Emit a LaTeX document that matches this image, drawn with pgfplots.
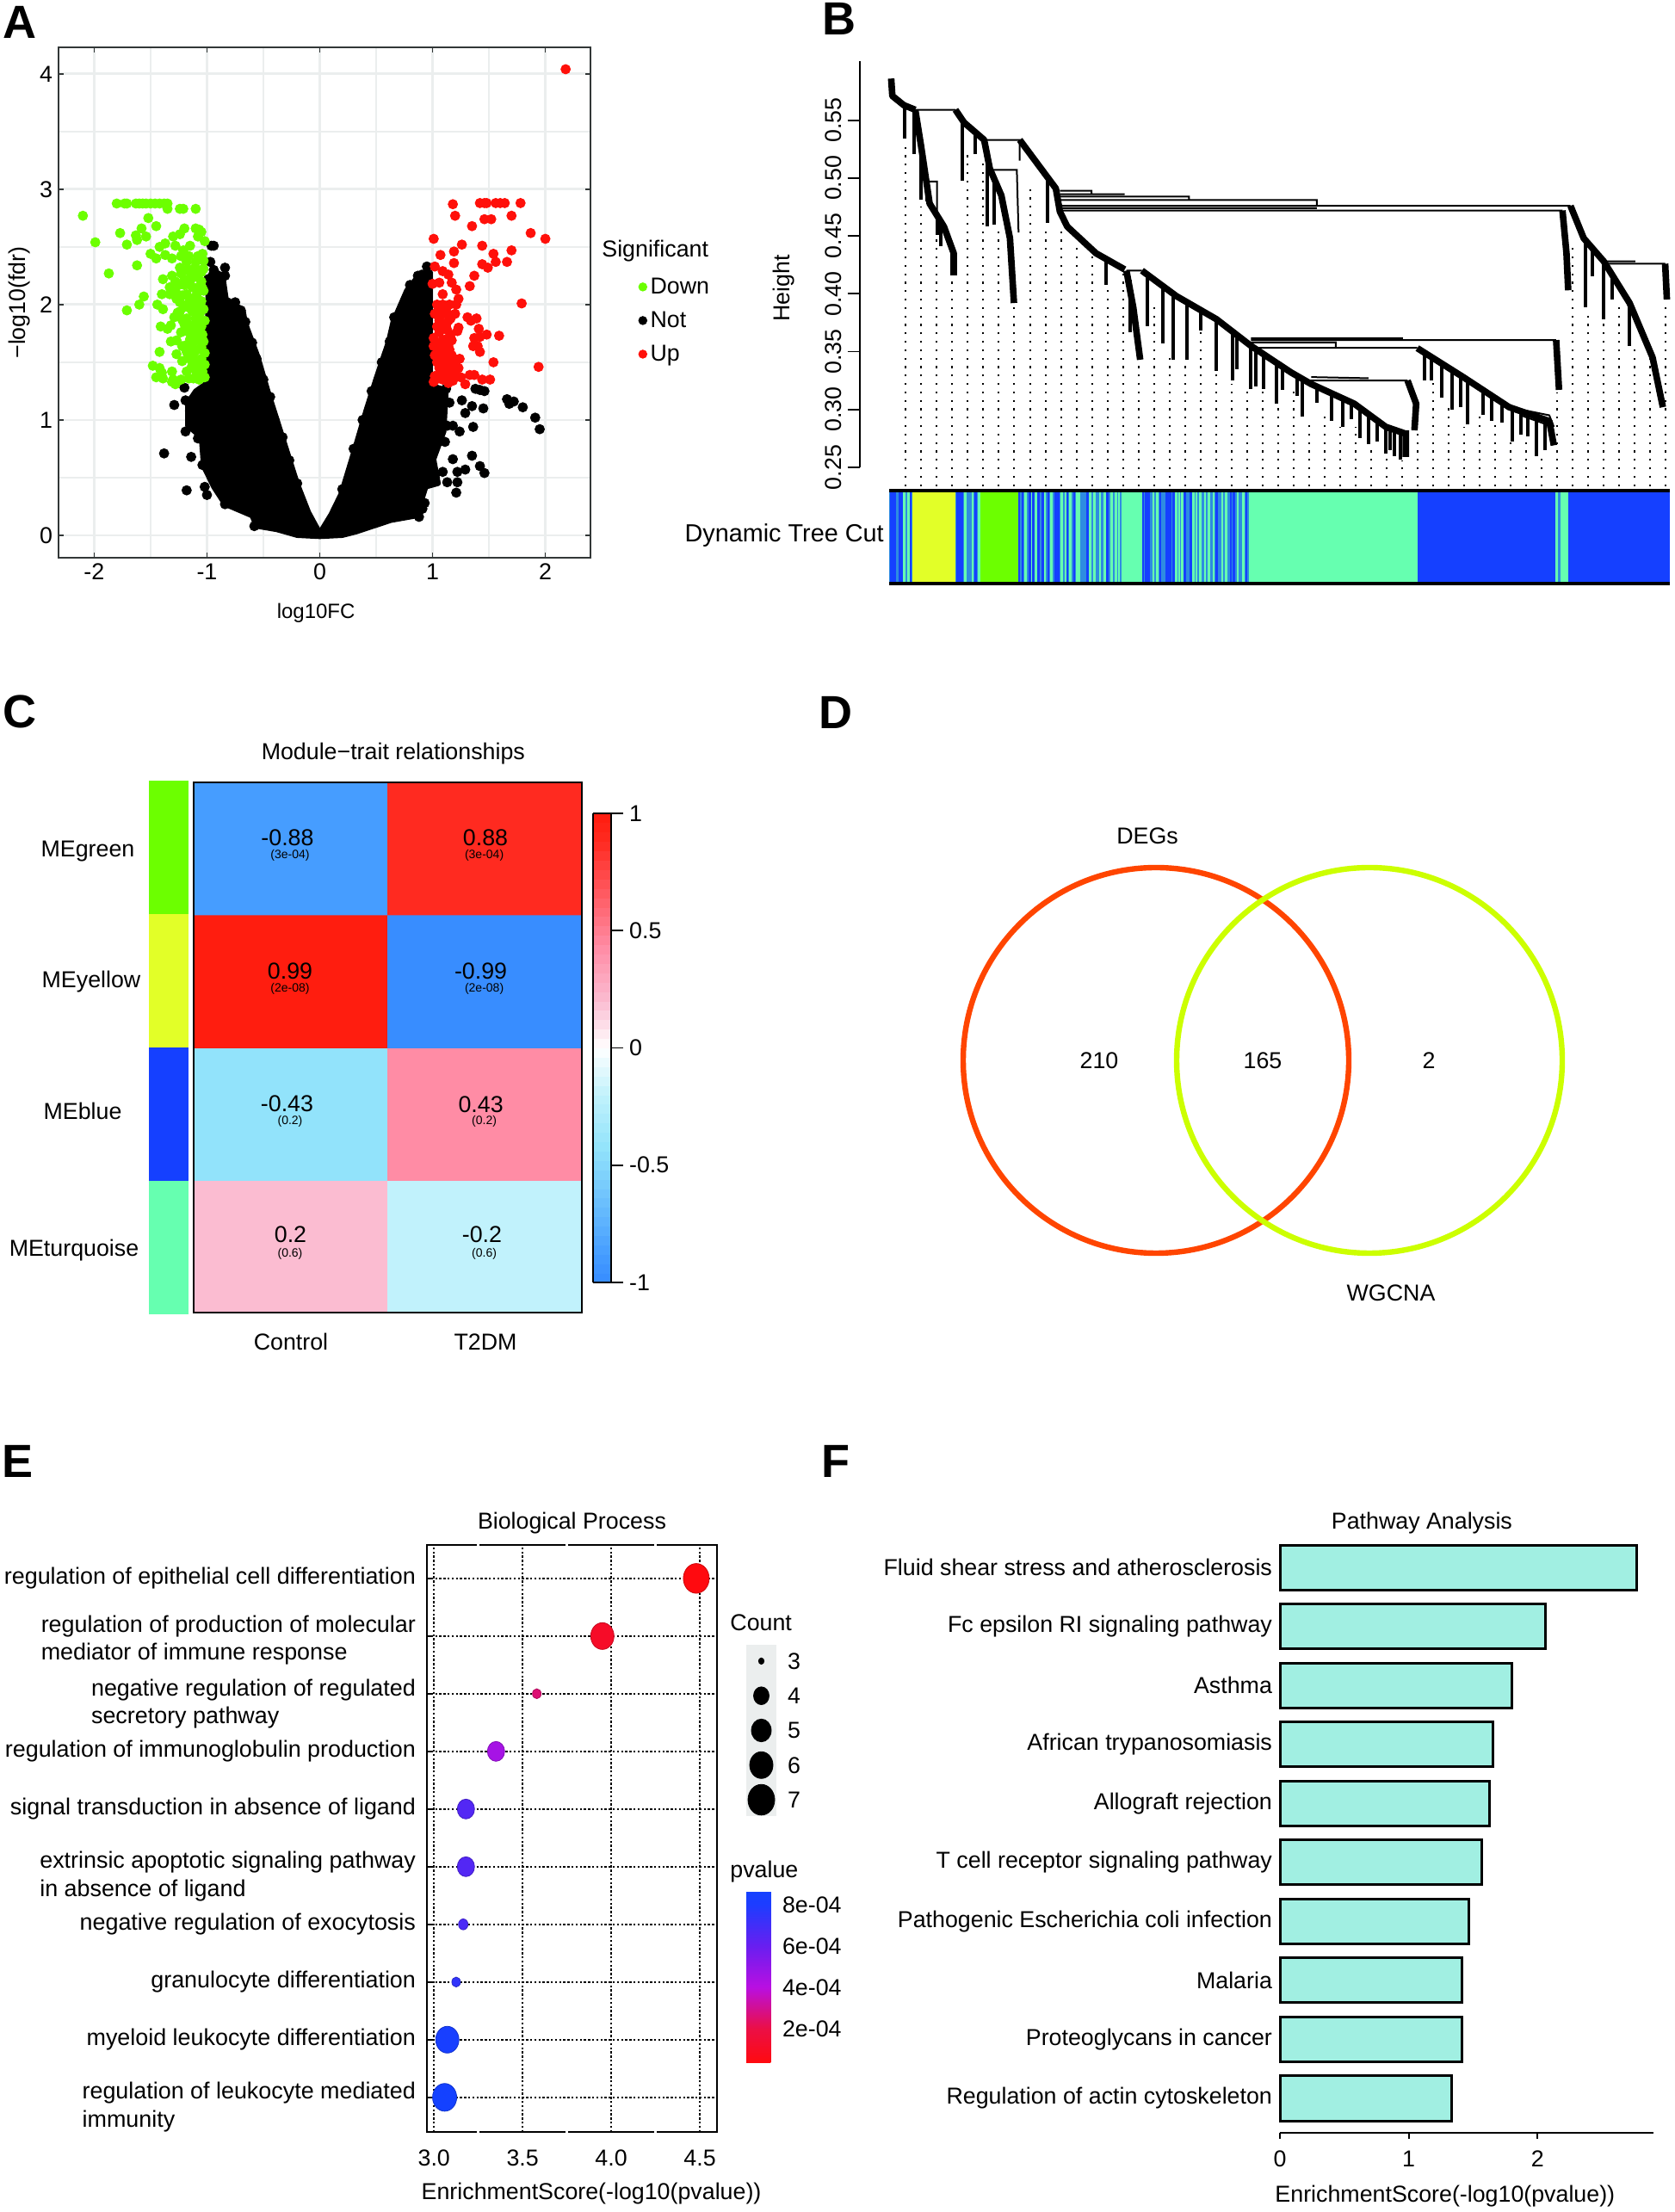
\documentclass[border=0pt]{standalone}
\usepackage{fontspec}
\setmainfont{Liberation Sans}
\usepackage{pgfplots}
\pgfplotsset{compat=1.18}
\newcommand\X[1]{#1*0.5pt}
\newcommand\Y[1]{(2570-#1)*0.5pt}
\newcommand\fs{\fontsize{13.4}{16}\selectfont}
\definecolor{mGreen}{RGB}{108,255,0}
\definecolor{mYellow}{RGB}{226,255,40}
\definecolor{mBlue}{RGB}{21,64,255}
\definecolor{mMid}{RGB}{46,140,225}
\definecolor{mTurq}{RGB}{102,255,176}
\definecolor{upRed}{RGB}{255,16,10}
\definecolor{barTeal}{RGB}{161,239,226}
\definecolor{gridA}{RGB}{235,238,238}
\definecolor{borderA}{RGB}{50,55,55}
\pgfplotsset{
  every axis title shift=0pt,
  base/.style={scale only axis, anchor=south west, tick label style={font=\fs}, label style={font=\fs}, title style={font=\fs}},
  bare/.style={scale only axis, anchor=south west, hide axis, clip=false},
}
\newcommand\block[5]{\addplot[fill=#5,draw=none,forget plot] coordinates {(#1,#3)(#2,#3)(#2,#4)(#1,#4)} --cycle;}
\newcommand\T[4]{\node[inner sep=0pt,font=\fs,#3] at ({\X{#1}},{\Y{#2}}) {#4};}
\newcommand\Letter[3]{\node[inner sep=0pt,font=\fontsize{27}{27}\selectfont\bfseries] at ({\X{#1}},{\Y{#2}}) {#3};}
\newcommand\TL[3]{\vbox{\vskip#1\hbox{\begin{tabular}{@{}l@{}}#2\\#3\end{tabular}}}}
\begin{document}
\begin{tikzpicture}
\path[use as bounding box] (0,0) rectangle (972.5pt,1285pt);
% Panel letters
\Letter{23}{26}{A}\Letter{975}{22}{B}\Letter{23}{827}{C}\Letter{971}{828}{D}\Letter{21}{1698}{E}\Letter{971}{1698}{F}

% ------------------------- A: volcano
\begin{axis}[base, at={({\X{68}},{\Y{648}})}, width=309pt, height=296.5pt,
  xmin=-2.316, xmax=2.40, ymin=-0.194, ymax=4.23,
  xtick={-2,-1,0,1,2}, xticklabels={-2,-1,0,1,2},
  ytick={0,1,2,3,4}, yticklabels={0,1,2,3,4},
  minor xtick={-1.5,-0.5,0.5,1.5}, minor ytick={0.5,1.5,2.5,3.5},
  grid=both, major grid style={gridA,line width=1.4pt}, minor grid style={gridA,line width=0.8pt},
  axis line style={borderA,line width=0.8pt},
  major tick style={borderA,line width=0.9pt}, major tick length=3pt, minor tick length=0pt,
  xlabel={log10FC}, ylabel={−log10(fdr)},
  xlabel style={at={(axis description cs:0.484,-0.108)},anchor=center,font=\fontsize{12}{14}\selectfont},
  ylabel style={at={(axis description cs:-0.074,0.5)},anchor=center},
  legend style={at={(axis description cs:1.09,0.556)},anchor=north west,draw=none,fill=none,font=\fs,row sep=4.8pt,inner sep=0pt},
  legend cell align=left, clip=false]
\addlegendimage{only marks,mark=*,mGreen,mark size=2.4pt}\addlegendentry{Down}
\addlegendimage{only marks,mark=*,black,mark size=2.4pt}\addlegendentry{Not}
\addlegendimage{only marks,mark=*,upRed,mark size=2.4pt}\addlegendentry{Up}
% black V: outline of the dense mass
\addplot[fill=black,draw=black,line width=3pt,line join=round,no markers,forget plot] coordinates {
(0,0.02)(-0.1,0.2)(-0.2,0.45)(-0.33,0.85)(-0.46,1.25)(-0.55,1.55)(-0.66,1.84)(-0.68,1.95)(-0.75,2.0)(-0.82,1.98)(-0.86,2.25)(-0.95,2.3)
(-0.99,2.2)(-1.0,1.32)(-1.1,1.25)(-1.17,1.15)(-1.17,0.95)(-1.05,0.85)(-1.03,0.6)(-0.94,0.42)(-0.84,0.27)(-0.6,0.17)(-0.56,0.08)(-0.38,0.05)(-0.2,0.0)(0,-0.01)
(0.2,0.0)(0.32,0.03)(0.63,0.13)(0.86,0.17)(0.94,0.42)(1.05,0.45)(1.01,0.66)(1.1,0.9)(1.12,1.26)(0.98,1.3)(0.98,2.28)(0.9,2.28)(0.77,2.12)(0.65,1.85)(0.61,1.68)(0.5,1.36)(0.41,1.08)(0.32,0.78)(0.19,0.36)(0.1,0.18)} --cycle;
% black points
\addplot[only marks,mark=*,black,mark size=2.75pt,forget plot] coordinates {
(-0.96,2.51)(-0.94,2.51)(-0.97,2.37)(-0.94,2.30)(-0.84,2.32)(-0.84,2.25)(-0.99,2.22)(-0.82,2.02)(-0.75,2.02)(-0.9,2.1)(-0.7,1.95)(-0.66,1.85)(-0.6,1.67)(-0.56,1.53)(-0.5,1.35)(-0.44,1.2)(-0.4,1.0)(-0.33,0.85)(-0.27,0.65)(-0.2,0.45)
(-1.20,1.28)(-1.29,1.13)(-1.19,1.17)(-1.38,0.71)(-1.14,0.68)(-1.18,0.39)(-1.19,0.90)(-1.0,0.35)(-1.02,0.42)(-1.04,0.61)(-1.08,0.84)(-1.11,1.02)(-1.15,1.08)(-1.0,1.17)(-0.58,0.08)(-0.84,0.27)(-1.1,1.2)(-1.05,1.25)
(1.68,1.14)(1.66,1.18)(1.72,1.16)(1.80,1.11)(1.91,1.02)(1.95,0.92)(1.45,1.10)(1.36,0.94)(1.35,1.12)(1.26,1.17)(1.24,0.90)(1.18,0.95)(1.29,1.06)(1.15,1.15)(1.35,0.69)(1.18,0.66)(1.29,0.57)(1.22,0.55)(1.42,0.60)(1.46,0.54)(1.13,0.46)(1.22,0.46)(1.21,0.37)(1.02,0.52)(1.09,0.55)(1.13,0.95)(1.11,0.81)(0.88,0.16)(0.91,0.23)(0.93,0.28)
(1.38,1.27)(1.42,1.26)(1.46,1.25)(1.12,1.27)(0.66,1.89)(0.80,2.17)(0.87,2.25)(0.95,2.33)(0.91,2.11)(0.84,1.95)(0.75,1.8)(0.62,1.68)(0.55,1.5)(0.46,1.25)(0.38,1.0)(0.3,0.75)(0.2,0.4)(1.05,1.05)(1.0,0.8)};
% green points
\addplot[only marks,mark=*,mGreen,mark size=2.75pt,forget plot] coordinates {
(-1.80,2.876)(-1.73,2.876)(-1.71,2.876)(-1.63,2.876)(-1.60,2.876)(-1.57,2.876)(-1.54,2.876)(-1.50,2.876)(-1.46,2.876)(-1.42,2.876)(-1.38,2.876)(-1.35,2.876)
(-1.35,2.83)(-1.24,2.83)(-1.21,2.83)(-1.10,2.83)(-2.10,2.77)(-1.52,2.75)(-1.45,2.68)(-1.58,2.66)(-1.20,2.66)(-1.10,2.66)(-1.07,2.65)(-1.05,2.63)(-1.77,2.62)(-1.63,2.60)(-1.54,2.59)(-1.62,2.56)(-1.24,2.61)(-1.30,2.59)(-1.08,2.59)(-1.02,2.55)(-1.99,2.54)(-1.71,2.52)(-1.37,2.53)(-1.42,2.50)(-1.28,2.51)(-1.15,2.51)
(-1.50,2.44)(-1.45,2.40)(-1.37,2.43)(-1.31,2.40)(-1.21,2.47)(-1.23,2.42)(-1.16,2.42)(-1.08,2.42)(-1.04,2.44)(-1.18,2.37)(-1.10,2.37)(-1.03,2.38)
(-1.62,2.34)(-1.87,2.27)(-1.24,2.32)(-1.31,2.25)(-1.23,2.27)(-1.14,2.25)(-1.05,2.28)(-1.39,2.22)(-1.28,2.20)(-1.33,2.15)(-1.20,2.17)(-1.13,2.15)(-1.05,2.20)(-1.28,2.12)(-1.40,2.09)(-1.33,2.09)(-1.18,2.09)(-1.09,2.09)(-1.03,2.12)
(-1.56,2.07)(-1.60,2.00)(-1.71,1.95)(-1.44,2.00)(-1.39,1.96)(-1.24,2.02)(-1.16,2.02)(-1.05,2.03)(-1.24,1.94)(-1.13,1.94)(-1.03,1.96)(-1.29,1.89)(-1.18,1.88)(-1.08,1.88)(-1.02,1.86)(-1.20,1.83)(-1.13,1.82)(-1.05,1.81)(-1.41,1.81)(-1.35,1.79)(-1.32,1.82)(-1.18,1.77)(-1.10,1.76)(-1.04,1.74)
(-1.32,1.68)(-1.27,1.69)(-1.22,1.64)(-1.10,1.69)(-1.03,1.68)(-1.42,1.59)(-1.27,1.57)(-1.18,1.59)(-1.08,1.61)(-1.02,1.58)(-1.22,1.51)(-1.14,1.52)(-1.05,1.53)(-1.48,1.47)(-1.42,1.45)(-1.02,1.48)(-1.31,1.42)(-1.18,1.42)(-1.09,1.43)(-1.40,1.41)(-1.45,1.37)(-1.39,1.36)(-1.30,1.35)(-1.28,1.31)(-1.23,1.35)(-1.16,1.36)(-1.07,1.35)(-1.02,1.37)(-1.31,1.33)
(-1.22,2.3)(-1.17,2.3)(-1.12,2.31)(-1.08,2.3)(-1.03,2.31)(-1.2,2.22)(-1.15,2.2)(-1.09,2.24)(-1.25,2.17)(-1.08,2.15)(-1.04,2.14)(-1.27,2.05)(-1.22,2.08)(-1.12,2.05)(-1.07,2.0)(-1.2,1.98)(-1.15,1.97)(-1.1,1.98)(-1.26,1.93)(-1.06,1.93)(-1.22,1.87)(-1.1,1.88)(-1.17,1.83)(-1.07,1.84)(-1.23,1.76)(-1.14,1.76)(-1.07,1.77)(-1.15,1.7)(-1.06,1.71)(-1.18,1.65)(-1.13,1.63)(-1.05,1.63)(-1.12,1.57)(-1.17,1.54)(-1.1,1.5)(-1.07,1.46)(-1.14,1.45)(-1.09,1.4)(-1.12,1.36)(-1.04,1.42)};
% red points
\addplot[only marks,mark=*,upRed,mark size=2.75pt,forget plot] coordinates {
(1.18,2.87)(1.42,2.88)(1.46,2.88)(1.48,2.88)(1.56,2.88)(1.60,2.88)(1.64,2.88)(1.78,2.88)(1.20,2.77)(1.46,2.74)(1.52,2.74)(1.70,2.77)(1.35,2.68)(1.87,2.62)(1.01,2.57)(2.00,2.57)(1.26,2.52)(1.44,2.51)(1.19,2.46)(1.07,2.43)(1.54,2.44)(1.70,2.47)(1.19,2.36)(1.44,2.35)(1.56,2.37)(1.49,2.32)(1.66,2.37)(1.02,2.33)(1.09,2.29)(1.14,2.26)(1.37,2.25)(1.06,2.19)(1.17,2.19)(1.00,2.18)(1.21,2.13)(1.33,2.16)(1.09,2.09)(1.23,2.05)(1.04,2.00)(1.09,2.00)(1.15,2.00)(1.21,2.00)(1.79,2.01)
(1.20,1.92)(1.02,1.92)(1.09,1.92)(1.15,1.91)(1.31,1.89)(1.34,1.86)(1.39,1.88)(1.06,1.86)(1.14,1.86)(1.04,1.81)(1.13,1.78)(1.23,1.80)(1.22,1.77)(1.41,1.79)(1.48,1.74)(1.59,1.73)(1.01,1.71)(1.09,1.69)(1.17,1.69)(1.37,1.71)(1.42,1.72)(1.01,1.64)(1.15,1.61)(1.36,1.64)(1.42,1.59)(1.40,1.64)(1.09,1.63)(1.02,1.56)(1.19,1.53)(1.24,1.53)(1.54,1.50)(1.94,1.46)(1.04,1.50)(1.11,1.48)(1.16,1.46)(1.23,1.45)(1.07,1.42)(1.14,1.41)(1.21,1.38)(1.02,1.38)(1.09,1.35)(1.17,1.35)(1.29,1.31)(1.25,1.37)(1.33,1.39)(1.37,1.39)(1.44,1.35)(1.51,1.35)(1.01,1.33)(1.14,1.32)
(1.05,1.95)(1.12,1.96)(1.06,1.88)(1.16,1.88)(1.08,1.83)(1.12,1.82)(1.06,1.76)(1.16,1.74)(1.12,1.7)(1.05,1.66)(1.14,1.65)(1.06,1.58)(1.12,1.56)(1.17,1.56)(1.08,1.52)(1.14,1.5)(1.06,1.45)(1.19,1.47)(1.1,1.42)(1.18,1.4)(1.05,1.36)(1.13,1.37)(1.18,1.34)
(2.18,4.04)};
\end{axis}
\T{699}{292}{anchor=west}{Significant}

% ------------------------- B: dendrogram
\begin{axis}[base, at={({\X{998.7}},{\Y{543}})}, width=470.6pt, height=235.8pt,
  xmin=148, xmax=1560, ymin=0.25, ymax=0.6008, clip=false,
  hide x axis, axis y line=left, axis line style={-,line width=0.9pt},
  ytick={0.25,0.30,0.35,0.40,0.45,0.50,0.55}, yticklabels={0.25,0.30,0.35,0.40,0.45,0.50,0.55},
  major tick style={black,line width=0.9pt}, tick align=outside, major tick length=7pt,
  yticklabel style={rotate=90,anchor=south,font=\fontsize{13.4}{16}\selectfont},
  ylabel={Height}, ylabel style={at={(axis description cs:-0.094,0.441)},anchor=center}]
% dotted guides
\addplot[black,no markers,line width=1pt,dash pattern=on 1.1pt off 3.8pt,unbounded coords=jump,forget plot] coordinates {
(228,.2337)(228,.531)(nan,nan)(255,.2337)(255,.475)(nan,nan)(282,.2337)(282,.448)(nan,nan)(309,.2337)(309,.415)(nan,nan)(336,.2337)(336,.524)(nan,nan)(363,.2337)(363,.515)(nan,nan)(390,.2337)(390,.455)(nan,nan)(417,.2337)(417,.388)(nan,nan)(445,.2337)(445,.495)(nan,nan)(472,.2337)(472,.457)(nan,nan)(499,.2337)(499,.455)(nan,nan)(526,.2337)(526,.441)(nan,nan)(553,.2337)(553,.435)(nan,nan)(580,.2337)(580,.407)(nan,nan)(607,.2337)(607,.418)(nan,nan)(634,.2337)(634,.340)(nan,nan)(661,.2337)(661,.388)(nan,nan)(688,.2337)(688,.345)(nan,nan)(715,.2337)(715,.342)(nan,nan)(742,.2337)(742,.368)(nan,nan)(769,.2337)(769,.332)(nan,nan)(796,.2337)(796,.322)(nan,nan)(823,.2337)(823,.318)(nan,nan)(850,.2337)(850,.317)(nan,nan)(877,.2337)(877,.303)(nan,nan)(904,.2337)(904,.317)(nan,nan)(931,.2337)(931,.292)(nan,nan)(958,.2337)(958,.298)(nan,nan)(985,.2337)(985,.285)(nan,nan)(1012,.2337)(1012,.285)(nan,nan)(1039,.2337)(1039,.268)(nan,nan)(1066,.2337)(1066,.262)(nan,nan)(1093,.2337)(1093,.256)(nan,nan)(1120,.2337)(1120,.282)(nan,nan)(1147,.2337)(1147,.325)(nan,nan)(1174,.2337)(1174,.302)(nan,nan)(1201,.2337)(1201,.285)(nan,nan)(1228,.2337)(1228,.295)(nan,nan)(1255,.2337)(1255,.288)(nan,nan)(1282,.2337)(1282,.272)(nan,nan)(1309,.2337)(1309,.275)(nan,nan)(1336,.2337)(1336,.258)(nan,nan)(1363,.2337)(1363,.315)(nan,nan)(1390,.2337)(1390,.441)(nan,nan)(1417,.2337)(1417,.385)(nan,nan)(1444,.2337)(1444,.375)(nan,nan)(1471,.2337)(1471,.388)(nan,nan)(1498,.2337)(1498,.355)(nan,nan)(1525,.2337)(1525,.349)(nan,nan)(1552,.2337)(1552,.392)};
% thin merge lines
\addplot[black,no markers,line width=1pt,unbounded coords=jump,forget plot] coordinates {
(245,.559)(315,.559)(nan,nan)(365,.533)(427,.533)(427,.515)(nan,nan)(380,.507)(422,.507)(425,.453)(nan,nan)(268,.497)(283,.497)(283,.470)(nan,nan)(497,.489)(552,.489)(552,.486)(nan,nan)(497,.486)(610,.486)(nan,nan)(497,.484)(722,.484)(722,.481)(nan,nan)(497,.481)(945,.481)(945,.476)(nan,nan)(497,.476)(1387,.476)(nan,nan)(497,.472)(1373,.472)(nan,nan)(497,.474)(945,.474)(nan,nan)(1445,.426)(1552,.426)(nan,nan)(1445,.428)(1500,.428)(nan,nan)(613,.420)(640,.420)(nan,nan)(830,.360)(1362,.360)(nan,nan)(830,.3617)(1095,.3617)(nan,nan)(830,.3533)(1120,.3533)(nan,nan)(830,.358)(978,.358)(978,.3533)(nan,nan)(930,.325)(1103,.325)(nan,nan)(935,.328)(1035,.327)(nan,nan)(1280,.302)(1350,.295)(1358,.285)(nan,nan)(1300,.295)(1340,.288)};
% droppers
\addplot[black,no markers,line width=2pt,unbounded coords=jump,forget plot] coordinates {
(226,.563)(226,.534)(nan,nan)(243,.559)(243,.521)(nan,nan)(255,.528)(255,.481)(nan,nan)(265,.495)(265,.480)(nan,nan)(283,.467)(283,.451)(nan,nan)(290,.462)(290,.441)(nan,nan)(327,.549)(327,.498)(nan,nan)(350,.539)(350,.521)(nan,nan)(370,.522)(370,.458)(nan,nan)(382,.500)(382,.460)(nan,nan)(475,.500)(475,.461)(nan,nan)(578,.428)(578,.408)(nan,nan)(620,.412)(620,.367)(nan,nan)
(650,.416)(650,.372)(nan,nan)(676,.407)(676,.357)(nan,nan)(694,.400)(694,.343)(nan,nan)(718,.393)(718,.343)(nan,nan)(742,.386)(742,.368)(nan,nan)(770,.378)(770,.333)(nan,nan)(798,.367)(798,.325)(nan,nan)(805,.364)(805,.335)(nan,nan)(830,.355)(830,.318)(nan,nan)(838,.352)(838,.320)(nan,nan)(852,.348)(852,.318)(nan,nan)(875,.340)(875,.305)(nan,nan)(885,.337)(885,.317)(nan,nan)(910,.329)(910,.312)(nan,nan)(920,.326)(920,.294)(nan,nan)(945,.320)(945,.306)(nan,nan)(970,.315)(970,.290)(nan,nan)(990,.310)(990,.285)(nan,nan)(1005,.306)(1005,.292)(nan,nan)(1020,.301)(1020,.275)(nan,nan)(1035,.296)(1035,.270)(nan,nan)(1050,.290)(1050,.272)(nan,nan)(1065,.285)(1065,.262)(nan,nan)(1072,.284)(1072,.265)(nan,nan)(1080,.283)(1080,.260)(nan,nan)(1090,.281)(1090,.257)(nan,nan)
(1133,.349)(1133,.325)(nan,nan)(1145,.345)(1145,.325)(nan,nan)(1162,.340)(1162,.310)(nan,nan)(1180,.334)(1180,.300)(nan,nan)(1195,.330)(1195,.302)(nan,nan)(1207,.326)(1207,.287)(nan,nan)(1235,.317)(1235,.295)(nan,nan)(1250,.312)(1250,.290)(nan,nan)(1268,.306)(1268,.289)(nan,nan)(1285,.301)(1285,.272)(nan,nan)(1300,.299)(1300,.278)(nan,nan)(1312,.296)(1312,.277)(nan,nan)(1327,.294)(1327,.260)(nan,nan)(1342,.291)(1342,.265)(nan,nan)
(1413,.446)(1413,.388)(nan,nan)(1425,.439)(1425,.415)(nan,nan)(1445,.428)(1445,.378)(nan,nan)(1460,.418)(1460,.395)(nan,nan)(1490,.392)(1490,.355)};
% main trunks
\addplot[black,no markers,line width=3.8pt,line join=round,unbounded coords=jump,forget plot] coordinates {
(203,.586)(205,.571)(225,.563)(245,.559)(nan,nan)(245,.559)(255,.528)(270,.478)(295,.458)(312,.435)(312,.416)(nan,nan)(315,.559)(330,.548)(365,.533)(375,.508)(395,.485)(410,.448)(417,.392)(nan,nan)(427,.533)(490,.491)(497,.471)(510,.458)(560,.435)(610,.421)(nan,nan)(613,.420)(625,.388)(637,.343)(nan,nan)(640,.420)(700,.398)(770,.378)(830,.355)(900,.332)(935,.322)(1010,.305)(1065,.285)(1100,.279)(nan,nan)(1100,.282)(1100,.259)(nan,nan)(1103,.325)(1118,.305)(1115,.282)(nan,nan)(1362,.360)(1367,.317)(nan,nan)(1120,.353)(1200,.328)(1280,.302)(1350,.290)(1358,.269)(nan,nan)(1373,.472)(1380,.435)(1383,.403)(nan,nan)(1387,.476)(1410,.448)(1445,.428)(1490,.392)(1530,.345)(1548,.302)(nan,nan)(1552,.426)(1555,.395)};
\end{axis}
% module colour band
\begin{axis}[bare, at={({\X{1033.3}},{\Y{678}})}, width=453.3pt, height=54pt, xmin=200, xmax=1560, ymin=0, ymax=1]
\block{200}{240}{0}{1}{mMid}
\block{240}{315}{0}{1}{mYellow}
\block{315}{359}{0}{1}{mMid}
\block{359}{424}{0}{1}{mGreen}
\block{424}{605}{0}{1}{mMid}
\block{605}{640}{0}{1}{mTurq}
\block{640}{827}{0}{1}{mMid}
\block{827}{1120}{0}{1}{mTurq}
\block{1120}{1360}{0}{1}{mBlue}
\block{1360}{1370}{0}{1}{mMid}
\block{1370}{1383}{0}{1}{mTurq}
\block{1383}{1560}{0}{1}{mBlue}
\addplot[ycomb,mTurq,line width=1.3pt,no markers,forget plot] coordinates {(226,1)(233,1)(332,1)(345,1)(356,1)(437,1)(447,1)(455,1)(471,1)(482,1)(500,1)(507,1)(515,1)(527,1)(531,1)(550,1)(557,1)(567,1)(575,1)(587,1)(595,1)(600,1)(660,1)(667,1)(700,1)(705,1)(710,1)(730,1)(735,1)(742,1)(750,1)(757,1)(765,1)(780,1)(787,1)(807,1)(817,1)(1363,1)};
\addplot[ycomb,mBlue,line width=1.3pt,no markers,forget plot] coordinates {(203,1)(206,1)(210,1)(218,1)(222,1)(237,1)(318,1)(322,1)(326,1)(350,1)(426,1)(432,1)(445,1)(451,1)(460,1)(467,1)(477,1)(490,1)(494,1)(510,1)(522,1)(545,1)(580,1)(642,1)(647,1)(652,1)(672,1)(683,1)(686,1)(690,1)(695,1)(715,1)(725,1)(770,1)(795,1)(800,1)(822,1)};
\addplot[black,line width=1.6pt,no markers,forget plot] coordinates {(200,1)(1560,1)};
\addplot[black,line width=1.6pt,no markers,forget plot] coordinates {(200,0)(1560,0)};
\end{axis}
\T{1027}{622}{anchor=east,font=\fontsize{14.4}{16}\selectfont}{Dynamic Tree Cut}

% ------------------------- C: heatmap
\begin{axis}[bare, at={({\X{173}},{\Y{1527}})}, width=23pt, height=310pt, xmin=0, xmax=1, ymin=0, ymax=4]
\block{0}{1}{3}{4}{mGreen}
\block{0}{1}{2}{3}{mYellow}
\block{0}{1}{1}{2}{mBlue}
\block{0}{1}{0}{1}{mTurq}
\end{axis}
\begin{axis}[base, at={({\X{225}},{\Y{1525}})}, width=225.5pt, height=308pt,
  xmin=0, xmax=2, ymin=0, ymax=4, xtick=\empty, ytick=\empty,
  axis line style={black,line width=0.9pt}, axis on top,
  title={Module−trait relationships}, title style={at={(axis description cs:0.514,1.054)},anchor=center},
  colormap={hm}{rgb255(0)=(55,140,255) rgb255(12)=(70,157,255) rgb255(57)=(146,227,251) rgb255(80)=(193,242,252) rgb255(100)=(255,255,255) rgb255(120)=(251,188,209) rgb255(143)=(255,140,165) rgb255(188)=(255,42,32) rgb255(200)=(255,28,14)},
  point meta min=-1, point meta max=1,
  colorbar, colorbar sampled,
  colorbar style={samples=51, scale only axis, width=10.5pt, height=272.5pt, at={(1.029,0.9416)}, anchor=north west,
    ytick={-1,-0.5,0,0.5,1}, yticklabels={-1,-0.5,0,0.5,1}, yticklabel pos=right, ytick pos=right,
    axis line style={black,line width=0.9pt}, major tick length=7pt, tick align=outside,
    y tick style={draw=black,line width=0.9pt}, yticklabel style={font=\fs}}]
\addplot[matrix plot*, point meta=explicit, mesh/cols=2, mesh/ordering=x varies, forget plot] table[meta=v] {
x y v
0.5 0.5 0.2
1.5 0.5 -0.2
0.5 1.5 -0.43
1.5 1.5 0.43
0.5 2.5 0.99
1.5 2.5 -0.99
0.5 3.5 -0.88
1.5 3.5 0.88
};
\end{axis}
\T{102}{989}{}{MEgreen}\T{106}{1141}{}{MEyellow}\T{96}{1291}{}{MEblue}\T{86}{1453}{}{MEturquoise}
\T{338}{1559}{}{Control}\T{564}{1559}{}{T2DM}
\newcommand\pv{\fontsize{7}{8}\selectfont}
\T{334}{973.5}{}{-0.88}\T{337}{993.5}{font=\pv}{(3e-04)}
\T{564}{973.5}{}{0.88}\T{562.6}{993.5}{font=\pv}{(3e-04)}
\T{337}{1128}{}{0.99}\T{337}{1149}{font=\pv}{(2e-08)}
\T{558.6}{1128}{}{-0.99}\T{562.6}{1149}{font=\pv}{(2e-08)}
\T{333.5}{1282}{}{-0.43}\T{337}{1303}{font=\pv}{(0.2)}
\T{558.6}{1283}{}{0.43}\T{562.6}{1303}{font=\pv}{(0.2)}
\T{337.5}{1434}{}{0.2}\T{337}{1457}{font=\pv}{(0.6)}
\T{560}{1434}{}{-0.2}\T{562.6}{1457}{font=\pv}{(0.6)}

% ------------------------- D: Venn
\begin{axis}[bare, at={({\X{1100}},{\Y{1520}})}, width=365pt, height=285pt, xmin=1100, xmax=1830, ymin=950, ymax=1520, y dir=reverse]
\addplot[only marks, mark=o, mark size=112pt, mark options={draw={rgb,255:red,255;green,69;blue,0},line width=3.2pt}, forget plot] coordinates {(1343,1232)};
\addplot[only marks, mark=o, mark size=112pt, mark options={draw={rgb,255:red,204;green,255;blue,0},line width=3.2pt}, forget plot] coordinates {(1591,1232)};
\end{axis}
\T{1333}{971}{}{DEGs}\T{1616}{1502}{}{WGCNA}\T{1277}{1232}{}{210}\T{1467}{1232}{}{165}\T{1660}{1232}{}{2}

% ------------------------- E: dot plot
\begin{axis}[base, at={({\X{496}},{\Y{2477}})}, width=168.5pt, height=341pt,
  xmin=2.96, xmax=4.597, ymin=0.40, ymax=10.58, clip=false,
  xtick={3,3.5,4,4.5}, xticklabels={3.0,3.5,4.0,4.5},
  ytick={1,...,10},
  yticklabels={{\TL{12pt}{regulation of leukocyte mediated}{immunity}},{myeloid leukocyte differentiation},{granulocyte differentiation},{negative regulation of exocytosis},{\TL{12pt}{extrinsic apoptotic signaling pathway}{in absence of ligand}},{signal transduction in absence of ligand},{regulation of immunoglobulin production},{\TL{12pt}{negative regulation of regulated}{secretory pathway}},{\TL{5pt}{regulation of production of molecular}{mediator of immune response}},{regulation of epithelial cell differentiation}},
  yticklabel style={xshift=-3pt,font=\fontsize{13.45}{16.4}\selectfont},
  xticklabel style={yshift=-7pt},
  grid=major, grid style={black,line width=1pt,dash pattern=on 1.2pt off 1.2pt},
  axis line style={black,line width=0.8pt},
  x tick style={draw=none}, y tick style={black,line width=1.2pt}, major tick length=3pt, xtick pos=bottom, ytick pos=left,
  title={Biological Process}, title style={at={(axis description cs:0.5,1.037)},anchor=center},
  xlabel={EnrichmentScore(-log10(pvalue))}, xlabel style={at={(axis description cs:0.567,-0.105)},anchor=center},
  colormap={pv}{rgb255(0)=(255,10,15) rgb255(17)=(235,15,70) rgb255(37)=(185,15,225) rgb255(57)=(105,30,240) rgb255(77)=(30,60,255) rgb255(84)=(20,65,255)},
  point meta min=0.33, point meta max=8.7,
  colorbar,
  colorbar style={scale only axis, width=17.5pt, height=100pt, at={(1.1009,0.4106)}, anchor=north west,
    ytick={2,4,6,8}, yticklabels={2e-04,4e-04,6e-04,8e-04}, yticklabel pos=right, ytick pos=right,
    axis line style={draw=none}, tick align=inside, major tick length=3pt, axis on top,
    y tick style={draw=white,line width=0.6pt}, yticklabel style={font=\fs}}]
\addplot[white,line width=1.4pt,forget plot,no markers,unbounded coords=jump] coordinates {(3.25,10.62)(3.25,10.54)(nan,nan)(3.75,10.62)(3.75,10.54)(nan,nan)(4.25,10.62)(4.25,10.54)(nan,nan)(3.25,0.36)(3.25,0.44)(nan,nan)(3.75,0.36)(3.75,0.44)(nan,nan)(4.25,0.36)(4.25,0.44)};
\addplot[scatter, only marks, mark=*, point meta=explicit, mark options={yscale=1.15}, forget plot,
  visualization depends on={\thisrow{d}\as\dsize},
  scatter/@pre marker code/.append style={/tikz/mark size=\dsize}] table[meta=p] {
x y p d
4.48 10 0.33 7.5
3.95 9 1.1 6.75
3.58 8 2.6 2.5
3.35 7 4.5 5
3.18 6 6.6 5
3.18 5 6.6 5
3.165 4 6.8 2.75
3.125 3 7.5 2.5
3.075 2 8.4 6.75
3.06 1 8.7 7
};
\end{axis}
\T{848}{1885}{anchor=west}{Count}\T{848}{2175}{anchor=west}{pvalue}
\begin{axis}[base, at={({\X{867}},{\Y{2110}})}, width=17.5pt, height=99.5pt,
  xmin=0, xmax=1, ymin=2.53, ymax=7.47, y dir=reverse, clip=false,
  axis background/.style={fill=gridA}, axis line style={draw=none},
  xtick=\empty, ytick={3,4,5,6,7}, yticklabels={3,4,5,6,7}, yticklabel pos=right, ytick pos=right,
  y tick style={draw=none}, major tick length=0pt, yticklabel style={xshift=3pt}]
\addplot[scatter, only marks, mark=*, point meta=explicit symbolic, scatter/classes={a={black}}, mark options={yscale=1.15}, forget plot,
  visualization depends on={\thisrow{d}\as\dsize},
  scatter/@pre marker code/.append style={/tikz/mark size=\dsize}] table[meta=c] {
x y c d
0.5 3 a 1.6
0.5 4 a 4.5
0.5 5 a 5.75
0.5 6 a 6.75
0.5 7 a 7.75
};
\end{axis}

% ------------------------- F: pathway bars
\begin{axis}[base, at={({\X{1487}},{\Y{2478}})}, width=217pt, height=341.5pt,
  xmin=0, xmax=2.90, ymin=0.416, ymax=10.38, clip=false,
  axis x line*=bottom, axis y line*=left, y axis line style={draw=none}, x axis line style={-,black,line width=1.2pt},
  xtick={0,1,2}, xticklabels={0,1,2}, ytick={1,...,10}, y tick style={draw=none}, x tick style={black,line width=1pt},
  tick align=outside, major tick length=3.5pt,
  yticklabel style={xshift=2.5pt}, xticklabel style={yshift=-3.5pt},
  yticklabels={Regulation of actin cytoskeleton,Proteoglycans in cancer,Malaria,Pathogenic Escherichia coli infection,T cell receptor signaling pathway,Allograft rejection,African trypanosomiasis,Asthma,Fc epsilon RI signaling pathway,Fluid shear stress and atherosclerosis},
  title={Pathway Analysis}, title style={at={(axis description cs:0.38,1.0375)},anchor=center},
  xlabel={EnrichmentScore(-log10(pvalue))}, xlabel style={at={(axis description cs:0.442,-0.108)},anchor=center}]
\addplot[xbar, bar width=0.76, bar shift=0pt, fill=barTeal,draw=black,line width=1.5pt] coordinates {
(1.33,1)(1.41,2)(1.41,3)(1.464,4)(1.565,5)(1.63,6)(1.655,7)(1.80,8)(2.06,9)(2.77,10)};
\end{axis}
\end{tikzpicture}
\end{document}
